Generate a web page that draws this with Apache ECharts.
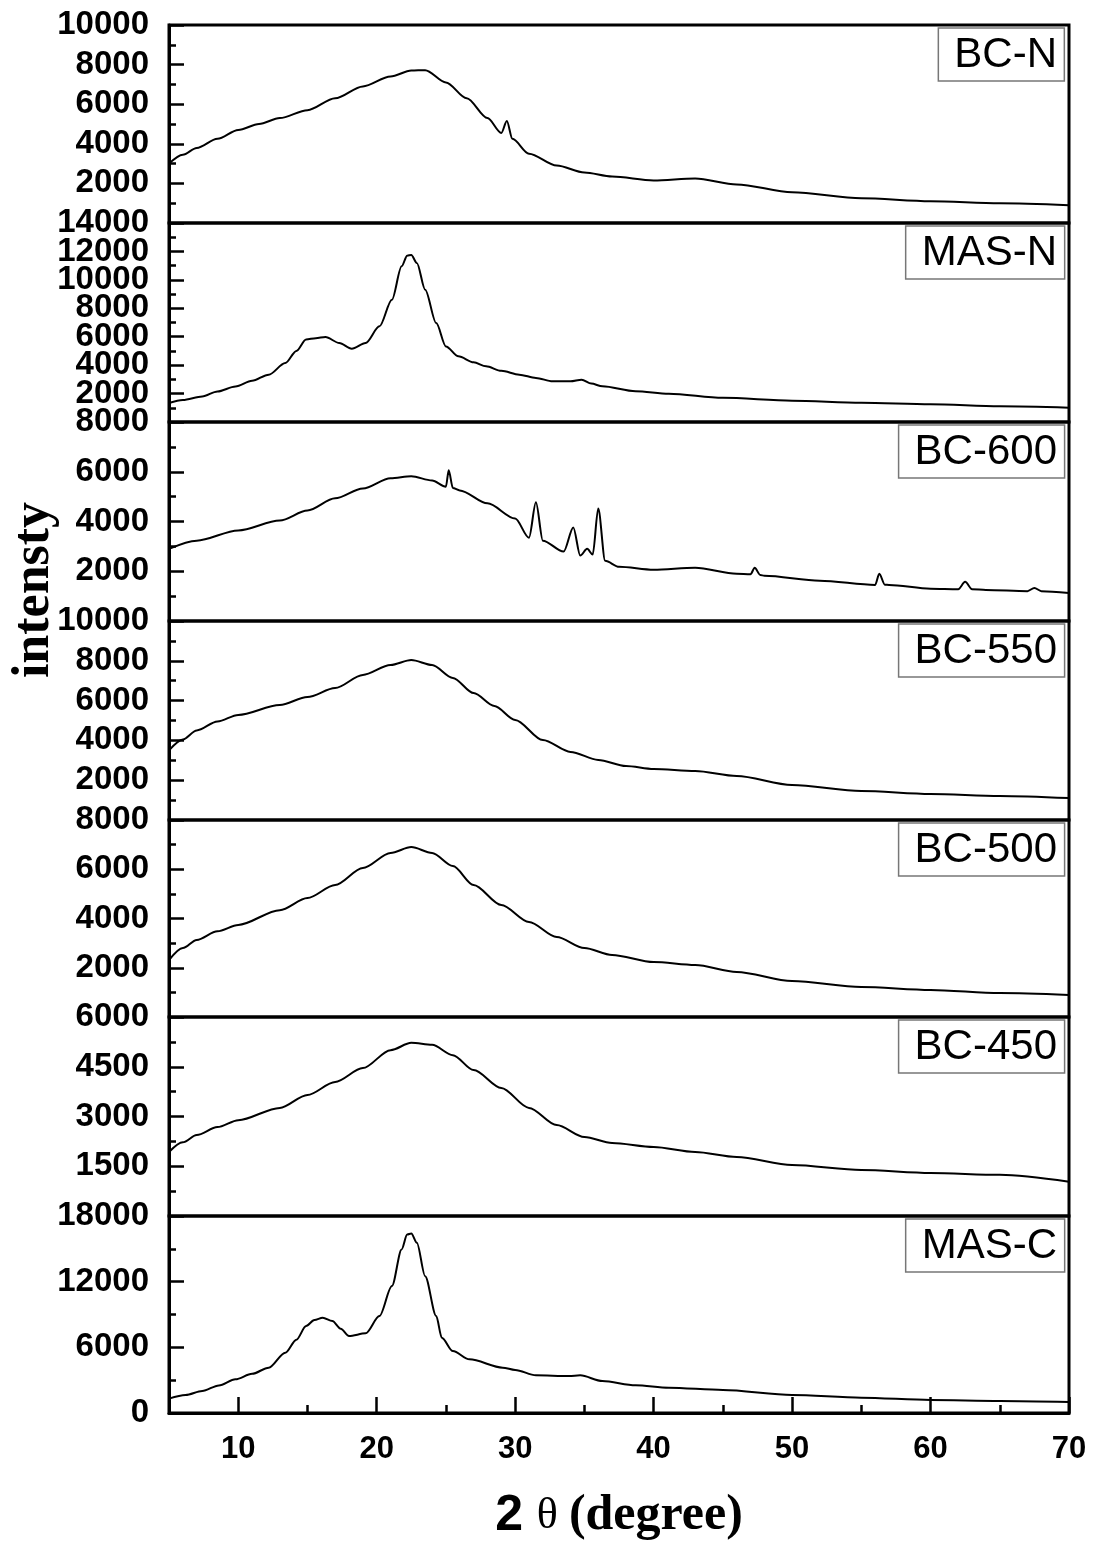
<!DOCTYPE html>
<html>
<head>
<meta charset="utf-8">
<script src="https://cdn.jsdelivr.net/npm/echarts@6/dist/echarts.min.js"></script>
<style>
  html, body { margin: 0; padding: 0; background: #fff; }
  #chart { width: 1093px; height: 1546px; }
</style>
</head>
<body>
<div id="chart"></div>
<script>
// sample names, top to bottom
var names = ['BC-N', 'MAS-N', 'BC-600', 'BC-550', 'BC-500', 'BC-450', 'MAS-C'];

// y axis ranges for each panel
var yMax = [10000, 14000, 8000, 10000, 8000, 6000, 18000];
var yStep = [2000, 2000, 2000, 2000, 2000, 1500, 6000];

// x ticks (2 theta)
var xMajor = [10, 20, 30, 40, 50, 60, 70];
var xMinor = [15, 25, 35, 45, 55, 65];

// [2theta, intensity]
var bcN = [[5,3000],[6,3450],[7,3790],[8.5,4250],[10,4700],[11.5,5000],[13,5300],[15,5700],[17,6300],[19,6900],[21,7400],[22.5,7700],[23.5,7720],[25,7100],[26.5,6300],[28,5300],[29,4550],[29.4,5150],[29.8,4250],[31,3500],[33,2900],[35,2550],[37,2350],[40,2150],[43,2250],[46,1950],[50,1550],[55,1250],[60,1100],[65,1000],[70,900]];
var masN = [[5,1340],[6,1550],[7.4,1800],[8.5,2150],[9.8,2500],[11,2900],[12.2,3330],[13.4,4150],[14.2,5000],[14.9,5800],[15.6,5900],[16.3,5980],[17.3,5560],[18.2,5160],[19.2,5560],[20.2,6730],[21.1,8600],[21.8,10950],[22.2,11700],[22.5,11750],[22.9,11190],[23.5,9310],[24.3,6960],[25,5320],[25.9,4620],[27,4200],[27.9,3920],[29,3600],[30.3,3330],[31.5,3100],[32.7,2860],[34,2860],[34.8,2980],[35.5,2700],[36.3,2510],[38.7,2160],[41.1,1990],[45,1700],[50,1500],[55,1350],[60,1250],[65,1100],[70,1000]];
var bc600 = [[5,2900],[7,3230],[10,3640],[13,4040],[15,4440],[17,4930],[19,5330],[21,5740],[22.5,5820],[24,5650],[25,5400],[25.2,6060],[25.5,5350],[26,5250],[28,4730],[30,4120],[31,3350],[31.5,4770],[32,3230],[33.5,2790],[34.2,3760],[34.7,2630],[35.2,2900],[35.6,2670],[36,4520],[36.5,2420],[37.5,2180],[40,2060],[43,2140],[46,1900],[47,1880],[47.3,2140],[47.7,1850],[48,1820],[52,1620],[56,1450],[56.3,1900],[56.7,1460],[57,1450],[60,1300],[62,1280],[62.5,1580],[63,1280],[64,1250],[67,1200],[67.5,1330],[68,1200],[70,1130]];
var bc550 = [[5,3500],[6,4050],[7,4500],[8.5,4950],[10,5280],[13,5780],[15,6180],[17,6630],[19,7290],[21,7790],[22.5,8040],[24,7790],[25.5,7140],[27,6380],[28.5,5730],[30,5030],[32,4020],[34,3420],[36,3020],[38,2710],[40,2560],[43,2460],[46,2210],[50,1760],[55,1460],[60,1310],[65,1210],[70,1100]];
var bc500 = [[5,2310],[6,2800],[7,3130],[8.5,3480],[10,3740],[13,4340],[15,4830],[17,5360],[19,6050],[21,6660],[22.5,6900],[24,6660],[25.5,6130],[27,5360],[29,4550],[31,3860],[33,3250],[35,2800],[37,2520],[40,2230],[43,2110],[46,1830],[50,1460],[55,1220],[60,1100],[65,970],[70,890]];
var bc450 = [[5,1930],[6,2220],[7,2440],[8.5,2680],[10,2890],[13,3260],[15,3650],[17,4040],[19,4460],[21,5000],[22.5,5220],[24,5160],[25.5,4850],[27,4400],[29,3860],[31,3260],[33,2740],[35,2380],[37,2200],[40,2080],[43,1930],[46,1780],[50,1540],[55,1390],[60,1300],[65,1240],[70,1030]];
var masC = [[5,1310],[6.2,1640],[7.4,2010],[8.6,2520],[9.8,3080],[11,3580],[12.2,4140],[13.4,5510],[14.2,6700],[14.9,7950],[15.5,8500],[16.1,8710],[16.8,8400],[17.4,7700],[18,7030],[19.2,7280],[20.2,8860],[21.1,11600],[21.8,14950],[22.2,16300],[22.5,16400],[22.9,15560],[23.5,12500],[24.3,8860],[24.7,6880],[25.5,5660],[26.7,4900],[29.1,4140],[30,3930],[31.5,3440],[33.9,3380],[34.7,3440],[36.3,2920],[38.7,2530],[41.1,2310],[45,2100],[50,1650],[55,1400],[60,1190],[65,1100],[70,1000]];

var curves = [bcN, masN, bc600, bc550, bc500, bc450, masC];

// MAS-N labels are crowded, so they are split over two label rows
var masNLabelsA = [2000, 6000, 10000, 14000];
var masNLabelsB = [4000, 8000, 12000];

// panel edges in px
var panelTop = [25, 223, 422, 621, 820, 1017, 1216];
var panelBottom = 1413;

var yLabelStyle = {
    margin: 20, color: '#000', fontSize: 33, fontWeight: 'bold', fontFamily: 'Liberation Sans',
    formatter: function (v) { return String(v); }
};

function buildOption() {
    var grids = [], xAxes = [], yAxes = [], series = [], titles = [];
    var n = names.length;
    for (var i = 0; i < n; i++) {
        var py = panelTop[i];
        var ph = (i < n - 1 ? panelTop[i + 1] : panelBottom) - py;
        var last = i === n - 1;
        grids.push({
            left: 169, right: 24, top: py, height: ph,
            show: true, borderColor: '#000', borderWidth: 3
        });
        xAxes.push({
            gridIndex: i, type: 'value', min: 5, max: 70,
            show: last,
            axisLine: { show: true, lineStyle: { color: '#000', width: 3 } },
            axisTick: { show: true, inside: true, length: 16, customValues: xMajor, lineStyle: { color: '#000', width: 2.5 } },
            axisLabel: {
                customValues: xMajor, margin: 21,
                color: '#000', fontSize: 31, fontWeight: 'bold', fontFamily: 'Liberation Sans'
            },
            splitLine: { show: false }
        });
        var lbl = Object.assign({ showMinLabel: last, showMaxLabel: true, hideOverlap: false }, yLabelStyle);
        if (i === 1) {
            lbl.customValues = masNLabelsA;
            lbl.showMinLabel = true;
        }
        yAxes.push({
            gridIndex: i, type: 'value', min: 0, max: yMax[i], interval: yStep[i],
            axisLine: { show: true, lineStyle: { color: '#000', width: 3 } },
            axisTick: { inside: true, length: 15, lineStyle: { color: '#000', width: 2.5 } },
            minorTick: { show: true, splitNumber: 2, length: 7, lineStyle: { color: '#000', width: 2.5 } },
            axisLabel: lbl,
            splitLine: { show: false }
        });
        series.push({
            name: names[i], type: 'line', xAxisIndex: i, yAxisIndex: i,
            data: curves[i], showSymbol: false, smooth: 0.3, smoothMonotone: 'x',
            lineStyle: { color: '#000', width: 2 }
        });
        titles.push({
            text: names[i], right: 28, top: py + 3,
            borderColor: '#777', borderWidth: 1.5,
            padding: [3, 8, 2, 16],
            textStyle: { color: '#000', fontSize: 42, fontWeight: 'normal', fontFamily: 'Liberation Sans', lineHeight: 48 }
        });
    }

    // second label row for MAS-N
    yAxes.push({
        gridIndex: 1, type: 'value', min: 0, max: yMax[1], interval: yStep[1], position: 'left',
        axisLine: { show: false }, axisTick: { show: false },
        axisLabel: Object.assign({ customValues: masNLabelsB, showMinLabel: true, showMaxLabel: true, hideOverlap: false }, yLabelStyle),
        splitLine: { show: false }
    });

    // x axis title on bottom panel
    var bx = xAxes[n - 1];
    bx.name = '{a|2 }{c|\u03b8 }{b|(degree)}';
    bx.nameLocation = 'middle';
    bx.nameGap = 78;
    bx.nameTextStyle = {
        rich: {
            a: { fontSize: 50, fontWeight: 'bold', fontFamily: 'Liberation Sans', color: '#000' },
            c: { fontSize: 44, fontWeight: 'normal', fontFamily: 'Liberation Serif', color: '#000' },
            b: { fontSize: 50, fontWeight: 'bold', fontFamily: 'Liberation Serif', color: '#000' }
        }
    };

    // minor x ticks for bottom panel
    xAxes.push({
        gridIndex: n - 1, type: 'value', min: 5, max: 70, position: 'bottom',
        axisLine: { show: false },
        axisTick: { show: true, inside: true, length: 8, customValues: xMinor, lineStyle: { color: '#000', width: 2.5 } },
        axisLabel: { show: false },
        splitLine: { show: false }
    });

    return {
        backgroundColor: '#fff',
        animation: false,
        title: titles,
        grid: grids,
        xAxis: xAxes,
        yAxis: yAxes,
        series: series,
        graphic: [{
            type: 'text', x: 35, y: 590, rotation: Math.PI / 2,
            style: {
                text: 'intensty', fill: '#000', fontSize: 52, fontWeight: 'bold',
                fontFamily: 'Liberation Serif', textAlign: 'center', textVerticalAlign: 'middle'
            }
        }]
    };
}

var chart = echarts.init(document.getElementById('chart'));
chart.setOption(buildOption());
</script>
</body>
</html>
